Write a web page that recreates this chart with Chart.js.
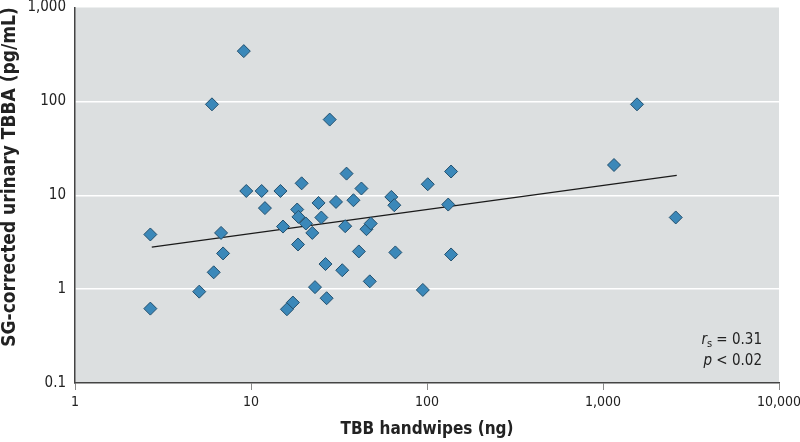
<!DOCTYPE html>
<html>
<head>
<meta charset="utf-8">
<script src="https://cdn.jsdelivr.net/npm/chart.js@4/dist/chart.umd.min.js"></script>
<style>
  html, body { margin: 0; padding: 0; background: #fff; }
  #chart { display: block; }
</style>
</head>
<body>
<canvas id="chart" width="800" height="442"></canvas>
<script>
// Data (TBB handwipes vs urinary TBBA)
const handwipeNg = [9.1, 6.0, 28, 34.9, 137, 9.4, 11.5, 14.7, 19.4, 42.4, 101, 12, 18.3, 24.2, 30.4, 38.2,
    62.7, 65.2, 132, 18.6, 25.1, 2.68, 6.76, 15.2, 20.5, 22.3, 34.3, 45.3, 47.9, 18.5, 6.94, 41, 66.1,
    137, 6.14, 26.5, 33, 47.3, 5.08, 23.1, 94.7, 26.9, 17.3, 16.0, 2.68, 1560, 1155, 2590];
const urinaryTbba = [343, 93, 64, 17, 17.9, 11.1, 11.1, 11.1, 13.4, 11.8, 13.1, 7.3, 7.05, 8.28, 8.49, 8.85,
    9.6, 7.83, 7.96, 5.88, 5.79, 3.82, 3.97, 4.64, 5.0, 3.97, 4.68, 4.35, 5.0, 2.99, 2.40, 2.52, 2.46,
    2.34, 1.51, 1.85, 1.59, 1.21, 0.94, 1.05, 0.98, 0.80, 0.72, 0.61, 0.62, 93, 21, 5.8];

// Fitted trend line end points
const trendX = [2.73, 2624];
const trendY = [2.8, 16.3];

const xTicks = [1, 10, 100, 1000, 10000];
const yTicks = [0.1, 1, 10, 100, 1000];
const yGridValues = [1, 10, 100];

const FONT = '"Liberation Sans Narrow", "Arial Narrow", "DejaVu Sans Condensed", sans-serif';
Chart.defaults.font.family = FONT;
Chart.defaults.color = '#222';

// Grey plot background
const plotBackground = {
    id: 'plotBackground',
    beforeDraw(chart) {
        const { ctx, chartArea: a } = chart;
        ctx.save();
        ctx.fillStyle = '#dcdfe0';
        ctx.fillRect(a.left, a.top, a.right - a.left, a.bottom - a.top);
        ctx.restore();
    }
};

// Y title (sits a little above centre in the original) and the r_s / p note
const extraText = {
    id: 'extraText',
    afterDraw(chart) {
        const ctx = chart.ctx;
        ctx.save();
        ctx.fillStyle = '#222';

        ctx.translate(10.5, 177);
        ctx.rotate(-Math.PI / 2);
        ctx.textAlign = 'center';
        ctx.textBaseline = 'middle';
        ctx.font = 'bold 19px ' + FONT;
        ctx.fillText('SG-corrected urinary TBBA (pg/mL)', 0, 0);
        ctx.setTransform(1, 0, 0, 1, 0, 0);

        const right = 762;
        ctx.textAlign = 'left';
        ctx.textBaseline = 'alphabetic';

        // line 1: r_s = 0.31
        ctx.font = 'italic 15px ' + FONT;
        const wr = ctx.measureText('r').width;
        ctx.font = '11px ' + FONT;
        const ws = ctx.measureText('s').width;
        ctx.font = '15px ' + FONT;
        const w1 = ctx.measureText(' = 0.31').width;
        let x = right - (wr + ws + w1);
        ctx.font = 'italic 15px ' + FONT;
        ctx.fillText('r', x, 343.5);
        ctx.font = '11px ' + FONT;
        ctx.fillText('s', x + wr, 347);
        ctx.font = '15px ' + FONT;
        ctx.fillText(' = 0.31', x + wr + ws, 343.5);

        // line 2: p < 0.02
        ctx.font = 'italic 15px ' + FONT;
        const wp = ctx.measureText('p').width;
        ctx.font = '15px ' + FONT;
        const w2 = ctx.measureText(' < 0.02').width;
        x = right - (wp + w2);
        ctx.font = 'italic 15px ' + FONT;
        ctx.fillText('p', x, 364.5);
        ctx.font = '15px ' + FONT;
        ctx.fillText(' < 0.02', x + wp, 364.5);

        ctx.restore();
    }
};

const points = handwipeNg.map((v, i) => ({ x: v, y: urinaryTbba[i] }));
const trend = trendX.map((v, i) => ({ x: v, y: trendY[i] }));

new Chart(document.getElementById('chart'), {
    type: 'scatter',
    data: {
        datasets: [
            {
                label: 'Participants',
                data: points,
                pointStyle: 'rectRot',
                pointRadius: 6.5,
                backgroundColor: '#3b88b9',
                borderColor: '#23506e',
                borderWidth: 1,
                order: 0
            },
            {
                label: 'Trend',
                data: trend,
                showLine: true,
                pointRadius: 0,
                borderColor: '#1a1a1a',
                borderWidth: 1.4,
                order: 1
            }
        ]
    },
    options: {
        responsive: false,
        devicePixelRatio: 1,
        animation: false,
        layout: { padding: { top: 7, right: 21, left: 0, bottom: 0 } },
        plugins: {
            legend: { display: false },
            tooltip: { enabled: false }
        },
        scales: {
            x: {
                type: 'logarithmic',
                min: 1,
                max: 10000,
                afterBuildTicks: scale => { scale.ticks = xTicks.map(v => ({ value: v })); },
                afterFit: scale => {
                    scale.height = 59;
                    scale.paddingLeft = 0;
                    scale.paddingRight = 0;
                },
                ticks: {
                    autoSkip: false,
                    maxRotation: 0,
                    padding: 4,
                    font: { size: 14 },
                    color: '#222',
                    callback: v => Number(v).toLocaleString('en-US')
                },
                grid: {
                    drawOnChartArea: false,
                    drawTicks: true,
                    tickLength: 7,
                    color: '#8a8a8a',
                    lineWidth: 1
                },
                border: { color: '#444', width: 1.5 },
                title: {
                    display: true,
                    text: 'TBB handwipes (ng)',
                    font: { size: 17, weight: 'bold' },
                    color: '#222',
                    padding: { top: 0, bottom: 2 }
                }
            },
            y: {
                type: 'logarithmic',
                min: 0.1,
                max: 1000,
                afterBuildTicks: scale => { scale.ticks = yTicks.map(v => ({ value: v })); },
                afterFit: scale => {
                    scale.width = 75;
                    scale.paddingTop = 0;
                    scale.paddingBottom = 0;
                },
                ticks: {
                    autoSkip: false,
                    padding: 9,
                    font: { size: 15 },
                    color: '#222',
                    callback: v => Number(v).toLocaleString('en-US')
                },
                grid: {
                    drawTicks: false,
                    color: ctx => (ctx.tick && yGridValues.includes(ctx.tick.value)) ? '#ffffff' : 'rgba(0,0,0,0)',
                    lineWidth: 1.5
                },
                border: { color: '#444', width: 1.5 }
            }
        }
    },
    plugins: [plotBackground, extraText]
});
</script>
</body>
</html>
